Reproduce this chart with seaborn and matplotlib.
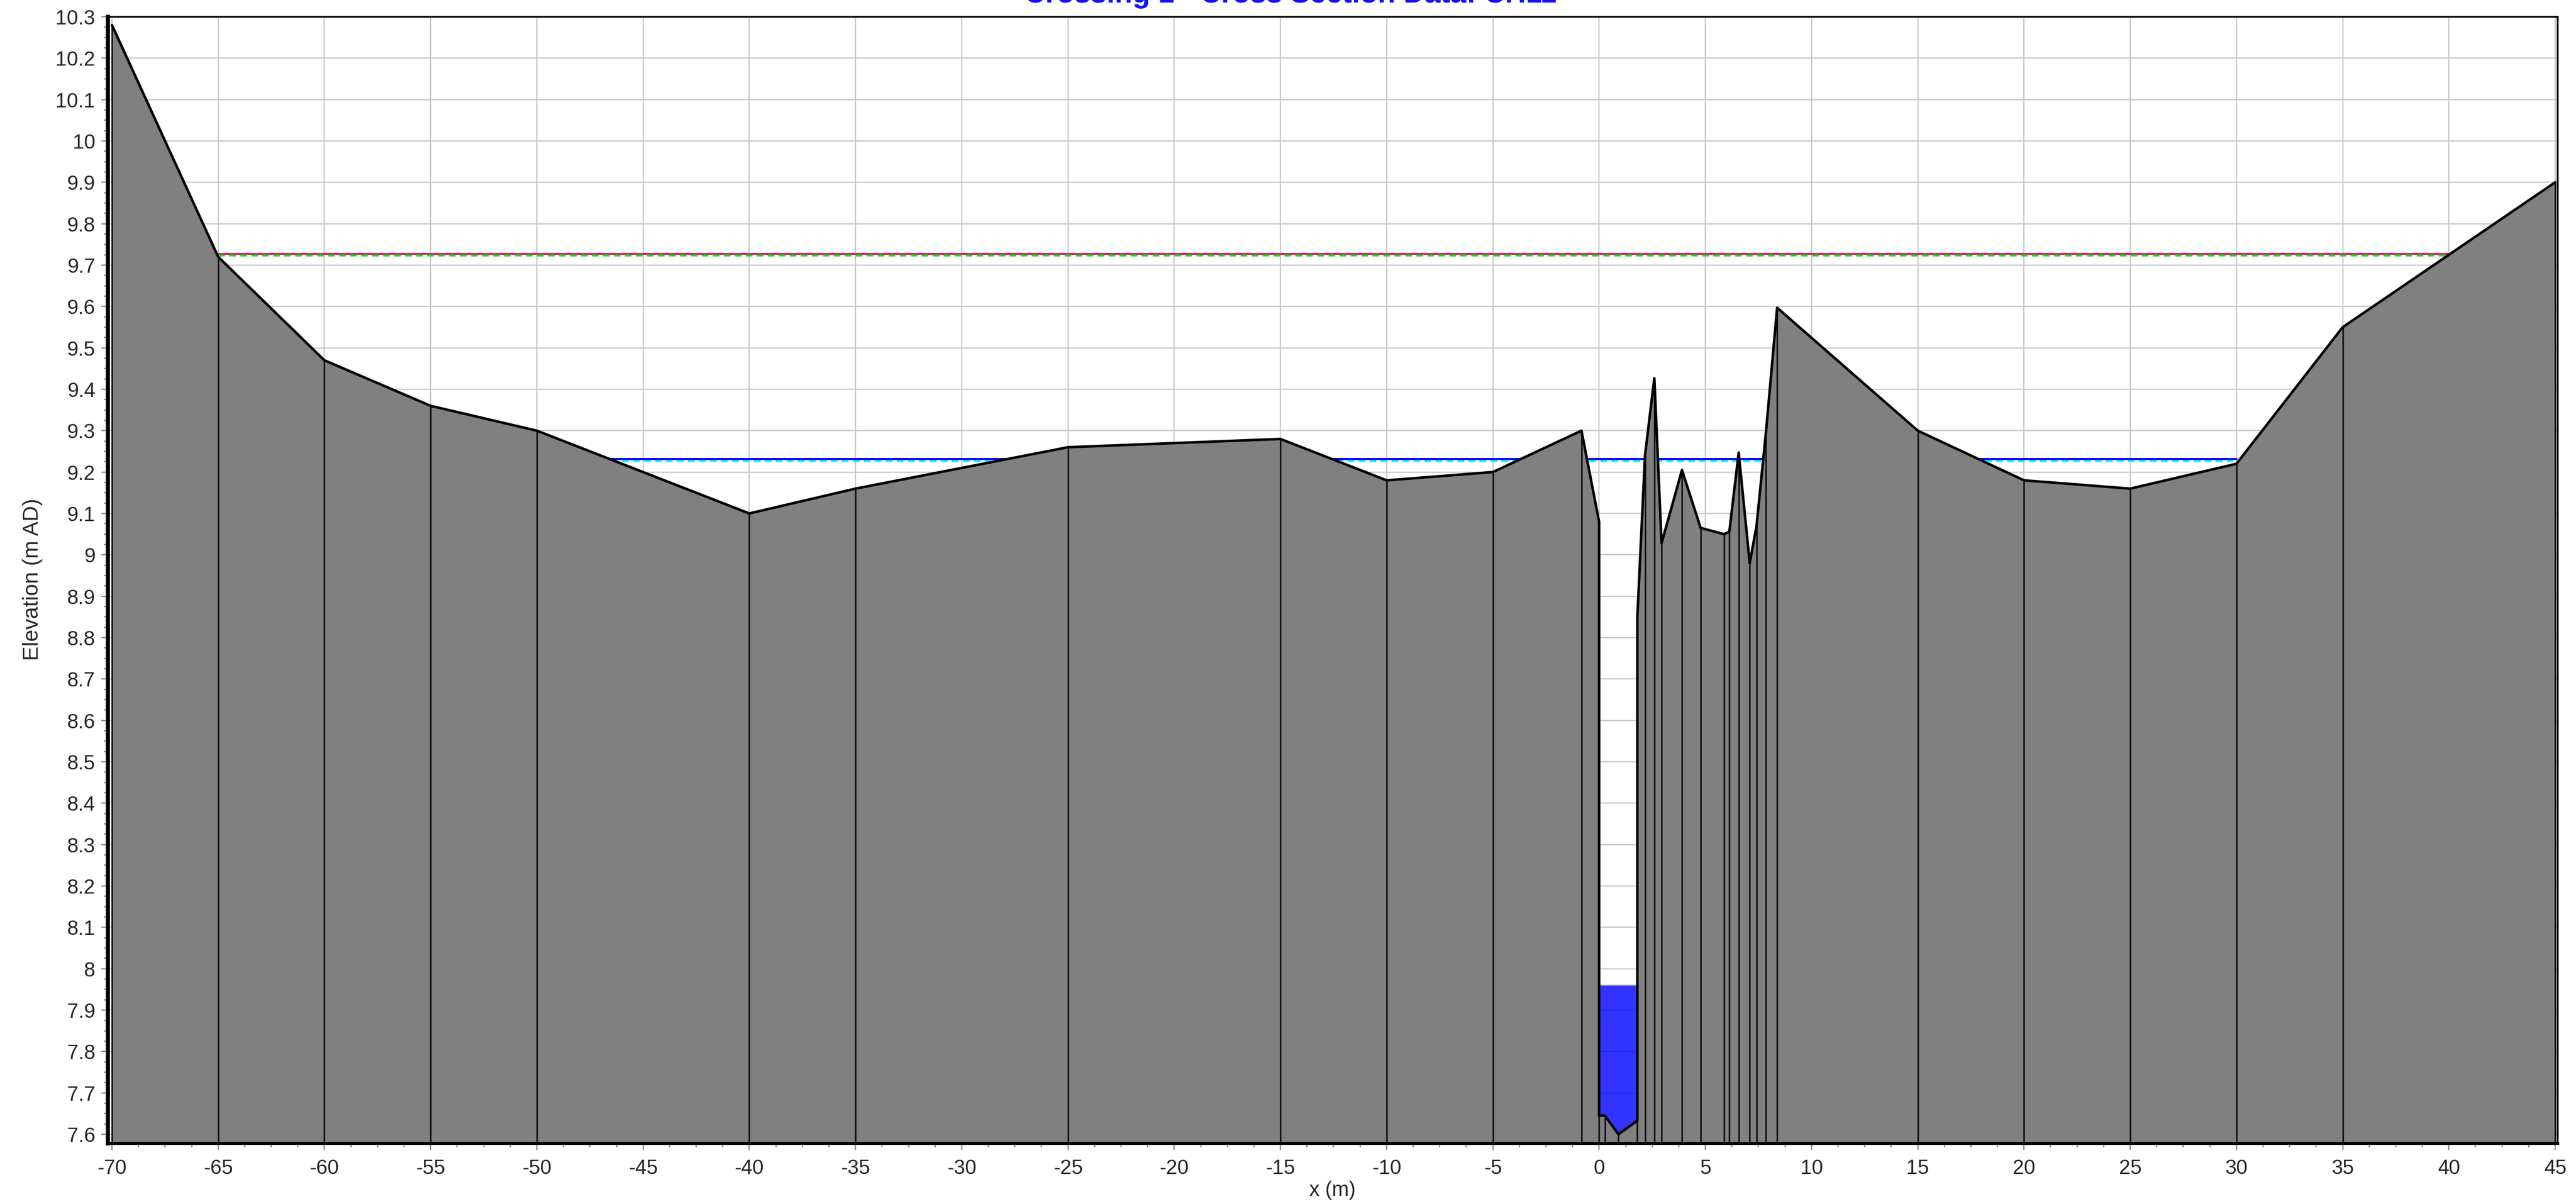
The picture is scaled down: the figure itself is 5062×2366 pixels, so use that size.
import matplotlib
matplotlib.use("Agg")
import matplotlib.pyplot as plt
from matplotlib.ticker import MultipleLocator, FuncFormatter
import numpy as np
import pandas as pd
import seaborn as sns

# Ground profile
chainage = [-70, -65, -60, -55, -50, -40, -35, -25, -15, -10, -5, -0.83, 0, 0,
            0.27, 0.91, 1.8, 1.8, 2.16, 2.6, 2.94, 3.9, 4.78, 5.88, 6.13, 6.57,
            7.09, 7.41, 7.86, 8.38, 15, 20, 25, 30, 35, 45]
elevation = [10.28, 9.72, 9.47, 9.36, 9.30, 9.10, 9.16, 9.26, 9.28, 9.18, 9.20, 9.30, 9.08, 7.645,
             7.645, 7.60, 7.633, 8.85, 9.24, 9.427, 9.028, 9.205, 9.065, 9.05, 9.056, 9.247,
             8.98, 9.07, 9.30, 9.597, 9.30, 9.18, 9.16, 9.22, 9.55, 9.90]

# Water levels
flood_x = [-65, 40]
flood_main = [9.7272, 9.7272]
flood_alt = [9.7228, 9.7228]
bank_x = [-46.5, 30]
bank_main = [9.2312, 9.2312]
bank_alt = [9.2268, 9.2268]
channel_x = [0, 0.27, 0.91, 1.8]
channel_bed = [7.645, 7.645, 7.60, 7.633]
channel_level = 7.96

title_text = "Crossing 1 - Cross Section Data: CH11"
x_label = "x (m)"
y_label = "Elevation (m AD)"

W, H = 5062, 2366
L, R, T, B = 212.0, 5026.0, 33.0, 2247.0
XPP = 41.75
YPP = 813.0

sns.set_theme(style="white")
plt.rcParams["font.family"] = ["Liberation Sans", "DejaVu Sans"]
DPI = 100
px = 72.0 / DPI

fig = plt.figure(figsize=(W / DPI, H / DPI), dpi=DPI, facecolor="white")
ax = fig.add_axes([L / W, 1 - B / H, (R - L) / W, (B - T) / H])
ax.set_facecolor("white")
ax.set_xlim(-70 - (220 - L) / XPP, 45 + (R - 5021) / XPP)
ax.set_ylim(7.6 - (B - 2229) / YPP, 10.3)

ax.xaxis.set_major_locator(MultipleLocator(5))
ax.xaxis.set_minor_locator(MultipleLocator(1.25))
ax.yaxis.set_major_locator(MultipleLocator(0.1))
ax.yaxis.set_minor_locator(MultipleLocator(0.025))
ax.xaxis.set_major_formatter(FuncFormatter(lambda v, _: f"{v:g}"))
ax.yaxis.set_major_formatter(FuncFormatter(lambda v, _: f"{round(v, 1):g}"))
ax.grid(True, which="major", color="#c6c6c6", lw=2.4 * px, zorder=0)
ax.set_axisbelow(True)

ax.tick_params(axis="both", which="major", length=13 * px, width=2.5 * px, color="#8c8c8c",
               labelsize=40 * px, labelcolor="#262626", left=True, bottom=True)
ax.tick_params(axis="both", which="minor", length=8 * px, width=2.5 * px, color="#8c8c8c",
               left=True, bottom=True)
ax.tick_params(axis="x", which="major", pad=17 * px)
ax.tick_params(axis="y", which="major", pad=12 * px)

for name, lw in dict(left=8, bottom=6, right=3.5, top=3.5).items():
    ax.spines[name].set_visible(True)
    ax.spines[name].set_color("black")
    ax.spines[name].set_linewidth(lw * px)
    ax.spines[name].set_zorder(6)

# water levels (behind the ground)
sns.lineplot(x=flood_x, y=flood_main, ax=ax, color="#ff0080", lw=4 * px, zorder=2, legend=False, errorbar=None, sort=False)
sns.lineplot(x=flood_x, y=flood_alt, ax=ax, color="#00e800", lw=4 * px, zorder=2.1, legend=False, errorbar=None, sort=False,
             linestyle=(0, (3.2, 2.2)))
sns.lineplot(x=bank_x, y=bank_main, ax=ax, color="#0000ff", lw=4 * px, zorder=2, legend=False, errorbar=None, sort=False)
sns.lineplot(x=bank_x, y=bank_alt, ax=ax, color="#00ffff", lw=4 * px, zorder=2.1, legend=False, errorbar=None, sort=False,
             linestyle=(0, (3.2, 2.2)))

# channel water
ax.fill_between(channel_x, channel_bed, channel_level, color="#0000ff", alpha=0.8, lw=0, zorder=1.5)
ax.plot([channel_x[0], channel_x[-1]], [channel_level, channel_level], color="#9a9a9a", lw=1.5 * px, zorder=1.6)

# ground
df = pd.DataFrame({"x": chainage, "z": elevation})
floor = ax.get_ylim()[0]
ax.fill_between(df["x"], df["z"], floor, color="#808080", lw=0, zorder=3)
ax.vlines(df["x"], floor, df["z"], color="#141414", lw=3.2 * px, zorder=3.2)
sns.lineplot(data=df, x="x", y="z", ax=ax, color="black", lw=5 * px, zorder=4, sort=False,
             estimator=None, errorbar=None, legend=False)

ax.set_xlim(-70 - (220 - L) / XPP, 45 + (R - 5021) / XPP)
ax.set_ylim(7.6 - (B - 2229) / YPP, 10.3)
ax.set_xlabel("")
ax.set_ylabel("")

fig.text(2618 / W, 1 - 2339 / H, x_label, ha="center", va="center", fontsize=40 * px, color="#262626")
fig.text(64 / W, 1 - 1139 / H, y_label, ha="center", va="center", rotation=90, fontsize=42.5 * px, color="#262626")
fig.text(2536 / W, 1 - 5 / H, title_text, ha="center", va="baseline", fontsize=57 * px,
         fontweight="bold", color="#1010ff")

fig.savefig("out.png", dpi=DPI, facecolor="white")
